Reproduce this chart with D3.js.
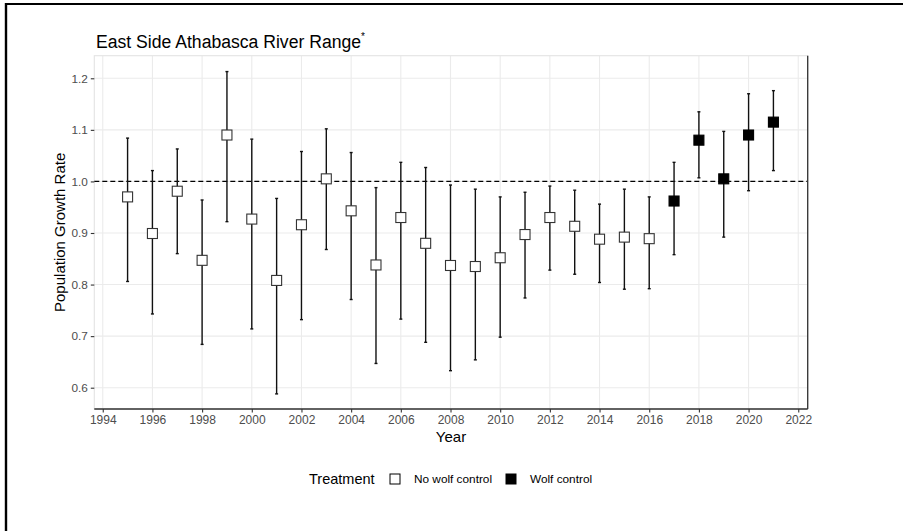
<!DOCTYPE html>
<html>
<head>
<meta charset="utf-8">
<script src="https://cdn.jsdelivr.net/npm/d3@7"></script>
<style>
  html, body { margin: 0; padding: 0; background: #fff; }
  svg { display: block; font-family: "Liberation Sans", Arial, sans-serif; }
</style>
</head>
<body>
<svg id="chart" width="903" height="531"></svg>
<script>
// Annual population growth rate (lambda) with confidence limits
const years    = [1995, 1996, 1997, 1998, 1999, 2000, 2001, 2002, 2003, 2004, 2005, 2006, 2007, 2008,
                  2009, 2010, 2011, 2012, 2013, 2014, 2015, 2016, 2017, 2018, 2019, 2020, 2021];
const lambda   = [0.970, 0.899, 0.981, 0.847, 1.090, 0.927, 0.808, 0.916, 1.005, 0.943, 0.838, 0.930, 0.880, 0.837,
                  0.835, 0.852, 0.897, 0.930, 0.913, 0.888, 0.892, 0.889, 0.962, 1.080, 1.005, 1.090, 1.115];
const lower    = [0.806, 0.743, 0.860, 0.684, 0.922, 0.714, 0.588, 0.732, 0.868, 0.771, 0.647, 0.733, 0.688, 0.633,
                  0.654, 0.698, 0.774, 0.828, 0.820, 0.804, 0.791, 0.792, 0.858, 1.007, 0.892, 0.982, 1.021];
const upper    = [1.084, 1.021, 1.063, 0.964, 1.213, 1.082, 0.967, 1.058, 1.102, 1.056, 0.988, 1.037, 1.027, 0.993,
                  0.985, 0.970, 0.979, 0.991, 0.983, 0.956, 0.985, 0.970, 1.037, 1.135, 1.097, 1.170, 1.176];
const treatment = years.map(y => y >= 2017 ? "Wolf control" : "No wolf control");

const treatments = ["No wolf control", "Wolf control"];
const xTicks = [1994, 1996, 1998, 2000, 2002, 2004, 2006, 2008, 2010, 2012, 2014, 2016, 2018, 2020, 2022];
const yTicks = [0.6, 0.7, 0.8, 0.9, 1.0, 1.1, 1.2];

const rows = years.map((yr, i) => ({ year: yr, lambda: lambda[i], lo: lower[i], hi: upper[i], trt: treatment[i] }));

const svg = d3.select("#chart");

// page frame lines
svg.append("line").attr("x1", 6).attr("x2", 6).attr("y1", 3).attr("y2", 531)
  .attr("stroke", "#000").attr("stroke-width", 2.4);
svg.append("line").attr("x1", 5).attr("x2", 903).attr("y1", 4).attr("y2", 4)
  .attr("stroke", "#000").attr("stroke-width", 2.2);

const panel = { left: 94.3, right: 807.7, top: 55.7, bottom: 409 };

const x = d3.scaleLinear().domain([1993.66, 2022.38]).range([panel.left, panel.right]);
const y = d3.scaleLinear().domain([0.5587, 1.2438]).range([panel.bottom, panel.top]);

const fillScale = d3.scaleOrdinal().domain(treatments).range(["#ffffff", "#000000"]);

// gridlines
const g = svg.append("g");
g.selectAll(".vgrid").data(xTicks).join("line")
  .attr("x1", d => x(d)).attr("x2", d => x(d))
  .attr("y1", panel.top).attr("y2", panel.bottom)
  .attr("stroke", "#ebebeb").attr("stroke-width", 1.1);
g.selectAll(".hgrid").data(yTicks).join("line")
  .attr("x1", panel.left).attr("x2", panel.right)
  .attr("y1", d => y(d)).attr("y2", d => y(d))
  .attr("stroke", "#ebebeb").attr("stroke-width", 1.1);

// panel outline: light top/left, dark bottom/right
g.append("rect").attr("x", panel.left).attr("y", panel.top)
  .attr("width", panel.right - panel.left).attr("height", panel.bottom - panel.top)
  .attr("fill", "none").attr("stroke", "#e3e3e3").attr("stroke-width", 1.1);

// reference line at lambda = 1
g.append("line")
  .attr("x1", panel.left).attr("x2", panel.right)
  .attr("y1", y(1)).attr("y2", y(1))
  .attr("stroke", "#000").attr("stroke-width", 1.2).attr("stroke-dasharray", "5,3");

// error bars
const eb = g.selectAll(".eb").data(rows).join("g");
eb.append("line")
  .attr("x1", d => x(d.year)).attr("x2", d => x(d.year))
  .attr("y1", d => y(d.lo)).attr("y2", d => y(d.hi))
  .attr("stroke", "#111").attr("stroke-width", 1.4);
eb.append("line")
  .attr("x1", d => x(d.year) - 1.5).attr("x2", d => x(d.year) + 1.5)
  .attr("y1", d => y(d.lo)).attr("y2", d => y(d.lo))
  .attr("stroke", "#111").attr("stroke-width", 1.4);
eb.append("line")
  .attr("x1", d => x(d.year) - 1.5).attr("x2", d => x(d.year) + 1.5)
  .attr("y1", d => y(d.hi)).attr("y2", d => y(d.hi))
  .attr("stroke", "#111").attr("stroke-width", 1.4);

// point estimates
const sq = 10;
g.selectAll(".pt").data(rows).join("rect")
  .attr("x", d => x(d.year) - sq / 2).attr("y", d => y(d.lambda) - sq / 2)
  .attr("width", sq).attr("height", sq)
  .attr("fill", d => fillScale(d.trt))
  .attr("stroke", d => d.trt === "Wolf control" ? "#000" : "#333")
  .attr("stroke-width", 1.1);

// dark axis lines (bottom and right edges)
g.append("line").attr("x1", panel.left).attr("x2", panel.right)
  .attr("y1", panel.bottom).attr("y2", panel.bottom)
  .attr("stroke", "#333").attr("stroke-width", 1.3);
g.append("line").attr("x1", panel.right).attr("x2", panel.right)
  .attr("y1", panel.top).attr("y2", panel.bottom)
  .attr("stroke", "#333").attr("stroke-width", 1.3);

// axes
const xAxis = d3.axisBottom(x).tickValues(xTicks).tickFormat(d3.format("d")).tickSize(3.5).tickPadding(2.5);
const xg = svg.append("g").attr("transform", `translate(0,${panel.bottom})`).call(xAxis);
xg.select(".domain").remove();
xg.selectAll(".tick line").attr("stroke", "#333").attr("stroke-width", 1.1);
xg.selectAll(".tick text").attr("fill", "#4d4d4d").attr("font-size", "12px")
  .attr("font-family", "Liberation Sans, Arial, sans-serif");

const yAxis = d3.axisLeft(y).tickValues(yTicks).tickFormat(d3.format(".1f")).tickSize(3.5).tickPadding(3);
const yg = svg.append("g").attr("transform", `translate(${panel.left},0)`).call(yAxis);
yg.select(".domain").remove();
yg.selectAll(".tick line").attr("stroke", "#333").attr("stroke-width", 1.1);
yg.selectAll(".tick text").attr("fill", "#4d4d4d").attr("font-size", "11.8px")
  .attr("font-family", "Liberation Sans, Arial, sans-serif");

// titles
const title = svg.append("text").attr("x", 96).attr("y", 48)
  .attr("font-size", "17.6px").attr("fill", "#000");
title.append("tspan").text("East Side Athabasca River Range");
title.append("tspan").attr("font-size", "10px").attr("dy", -8).text("*");

svg.append("text").attr("x", (panel.left + panel.right) / 2).attr("y", 442)
  .attr("text-anchor", "middle").attr("font-size", "15px").attr("fill", "#000").text("Year");

svg.append("text")
  .attr("transform", `translate(65,${(panel.top + panel.bottom) / 2}) rotate(-90)`)
  .attr("text-anchor", "middle").attr("font-size", "15px").attr("fill", "#000")
  .text("Population Growth Rate");

// legend
const lg = svg.append("g");
lg.append("text").attr("x", 309).attr("y", 484).attr("font-size", "14.5px").attr("fill", "#000").text("Treatment");
const keyX = [395, 511];
const labelX = [414, 530];
treatments.forEach((t, i) => {
  lg.append("rect").attr("x", keyX[i] - 5).attr("y", 474).attr("width", 10).attr("height", 10)
    .attr("fill", fillScale(t)).attr("stroke", "#000").attr("stroke-width", 1);
  lg.append("text").attr("x", labelX[i]).attr("y", 483)
    .attr("font-size", "11.8px").attr("fill", "#000").text(t);
});
</script>
</body>
</html>
